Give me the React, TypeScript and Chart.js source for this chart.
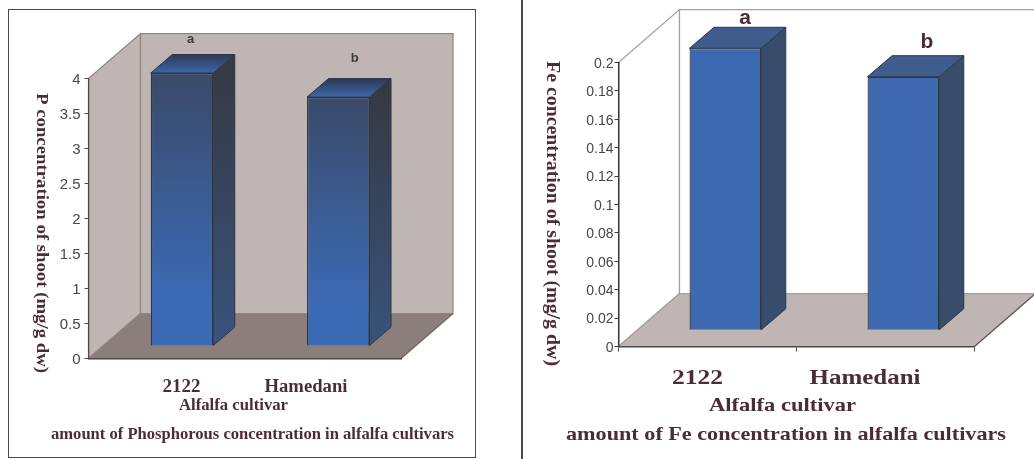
import React, { useEffect, useRef } from "react";
import { Chart, registerables } from "chart.js";

Chart.register(...registerables);

// Cultivars shown on both charts
const cultivars = ["2122", "Hamedani"];
const significance = ["a", "b"];

// Shoot concentrations (mg/g dw)
const phosphorusValues = [3.9, 3.556];
const ironValues = [0.1986, 0.1786];

const phosphorusMax = 4;
const phosphorusStep = 0.5;
const ironMax = 0.2;
const ironStep = 0.02;

const phosphorusAxisTitle = "P concentration of shoot (mg/g dw)";
const ironAxisTitle = "Fe concentration of shoot (mg/g dw)";
const xAxisTitle = "Alfalfa cultivar";
const phosphorusCaption = "amount of Phosphorous concentration in alfalfa cultivars";
const ironCaption = "amount of Fe concentration in alfalfa cultivars";

const SERIF = '"Liberation Serif", serif';
const SANS = '"Liberation Sans", sans-serif';
const TEXT = "#4b2d38";

type Look = {
  canvasLeft: number;
  area: { left: number; right: number; top: number; bottom: number };
  wall: { dx: number; dy: number; side: string; back: string; floor: string; stroke: string; floorEdge: string; lineWidth: number };
  bar: { shiftX: number; shiftY: number; dx: number; dy: number; percent: number; stroke: string };
  front: [string, string];
  sideFace: [string, string];
  topFace: [string, string];
  tickFont: number;
  tickPad: number;
  axisColor: string;
  axisWidth: number;
  xTicks: boolean;
  letters: { font: string; color: string; offsets: [number, number][] };
  catLabels: { font: string; y: number; centers: number[]; widths: number[] };
  yTitle: { font: string; x: number; y: number; len: number };
  xTitle: { font: string; x: number; y: number; len: number };
  caption: { font: string; x: number; y: number; len: number };
};

// Draws text centred on (cx, cy), stretched horizontally to span `len` pixels
function fitText(
  ctx: CanvasRenderingContext2D,
  text: string,
  font: string,
  color: string,
  cx: number,
  cy: number,
  len: number,
  rotate = 0
) {
  ctx.save();
  ctx.font = font;
  ctx.fillStyle = color;
  ctx.textAlign = "center";
  ctx.textBaseline = "middle";
  ctx.translate(cx, cy);
  ctx.rotate(rotate);
  ctx.scale(len / ctx.measureText(text).width, 1);
  ctx.fillText(text, 0, 0);
  ctx.restore();
}

function poly(ctx: CanvasRenderingContext2D, pts: number[][], fill: any, stroke?: string, lw = 1) {
  ctx.beginPath();
  pts.forEach(([x, y], i) => (i ? ctx.lineTo(x, y) : ctx.moveTo(x, y)));
  ctx.closePath();
  ctx.fillStyle = fill;
  ctx.fill();
  if (stroke) {
    ctx.strokeStyle = stroke;
    ctx.lineWidth = lw;
    ctx.stroke();
  }
}

// Box walls, floor, bar depth faces and the text around the plot
const scene = {
  id: "scene",
  beforeDraw(chart: any) {
    const look: Look = chart.options.plugins.scene.look;
    const { ctx } = chart;
    const { left, right, top, bottom } = chart.chartArea;
    const { dx, dy, side, back, floor, stroke, floorEdge, lineWidth } = look.wall;
    ctx.save();
    poly(ctx, [[left, bottom], [left, top], [left + dx, top - dy], [left + dx, bottom - dy]], side, stroke, lineWidth);
    poly(ctx, [[left + dx, top - dy], [right + dx, top - dy], [right + dx, bottom - dy], [left + dx, bottom - dy]], back, stroke, lineWidth);
    poly(ctx, [[left, bottom], [right, bottom], [right + dx, bottom - dy], [left + dx, bottom - dy]], floor);
    ctx.strokeStyle = stroke;
    ctx.lineWidth = lineWidth;
    ctx.beginPath();
    ctx.moveTo(left, bottom);
    ctx.lineTo(left + dx, bottom - dy);
    ctx.lineTo(right + dx, bottom - dy);
    ctx.stroke();
    ctx.strokeStyle = floorEdge;
    ctx.beginPath();
    ctx.moveTo(right, bottom);
    ctx.lineTo(right + dx, bottom - dy);
    ctx.stroke();
    ctx.restore();
  },
  beforeDatasetsDraw(chart: any) {
    const look: Look = chart.options.plugins.scene.look;
    const { ctx } = chart;
    const { shiftX, shiftY, dx, dy, stroke } = look.bar;
    ctx.save();
    ctx.translate(shiftX, -shiftY);
    chart.getDatasetMeta(0).data.forEach((bar: any) => {
      const l = bar.x - bar.width / 2;
      const r = bar.x + bar.width / 2;
      const sideGrad = ctx.createLinearGradient(0, bar.y, 0, bar.base);
      sideGrad.addColorStop(0, look.sideFace[0]);
      sideGrad.addColorStop(1, look.sideFace[1]);
      poly(ctx, [[r, bar.y], [r + dx, bar.y - dy], [r + dx, bar.base - dy], [r, bar.base]], sideGrad, stroke);
      const topGrad = ctx.createLinearGradient(0, bar.y - dy, 0, bar.y);
      topGrad.addColorStop(0, look.topFace[0]);
      topGrad.addColorStop(1, look.topFace[1]);
      poly(ctx, [[l, bar.y], [l + dx, bar.y - dy], [r + dx, bar.y - dy], [r, bar.y]], topGrad, stroke);
    });
  },
  afterDatasetsDraw(chart: any) {
    const look: Look = chart.options.plugins.scene.look;
    const { ctx } = chart;
    ctx.restore();
    chart.getDatasetMeta(0).data.forEach((bar: any, i: number) => {
      const [ox, oy] = look.letters.offsets[i];
      ctx.save();
      ctx.font = look.letters.font;
      ctx.fillStyle = look.letters.color;
      ctx.textAlign = "center";
      ctx.textBaseline = "middle";
      ctx.fillText(significance[i], bar.x + ox, bar.y + oy);
      ctx.restore();
    });
    cultivars.forEach((name, i) => {
      const c = look.catLabels;
      fitText(ctx, name, c.font, TEXT, c.centers[i], c.y, c.widths[i]);
    });
    const d = chart.options.plugins.scene.text;
    const { yTitle, xTitle, caption } = look;
    fitText(ctx, d.yTitle, yTitle.font, TEXT, yTitle.x, yTitle.y, yTitle.len, Math.PI / 2);
    fitText(ctx, xAxisTitle, xTitle.font, TEXT, xTitle.x, xTitle.y, xTitle.len);
    fitText(ctx, d.caption, caption.font, TEXT, caption.x, caption.y, caption.len);
  },
};

const phosphorusLook: Look = {
  canvasLeft: 0,
  area: { left: 88.5, right: 401, top: 78.5, bottom: 358.5 },
  wall: { dx: 52, dy: 45, side: "#bfb6b3", back: "#bfb6b3", floor: "#8b7e7b", stroke: "#8f8581", floorEdge: "#6f6663", lineWidth: 1.25 },
  bar: { shiftX: 15.4, shiftY: 12.5, dx: 21.5, dy: 18.5, percent: 0.4, stroke: "#2f3643" },
  front: ["#3a4a68", "#3b6ab4"],
  sideFace: ["#363a45", "#38537c"],
  topFace: ["#2e3a52", "#3a66ac"],
  tickFont: 15,
  tickPad: 4,
  axisColor: "#4a4a4f",
  axisWidth: 1.25,
  xTicks: false,
  letters: { font: `bold 13px ${SANS}`, color: "#3a3a40", offsets: [[24.1, -46.5], [31.8, -51.6]] },
  catLabels: { font: `bold 18.5px ${SERIF}`, y: 387, centers: [181.5, 306], widths: [38, 83] },
  yTitle: { font: `bold 17px ${SERIF}`, x: 41, y: 233, len: 280 },
  xTitle: { font: `bold 16.5px ${SERIF}`, x: 233.5, y: 406, len: 109 },
  caption: { font: `bold 16.5px ${SERIF}`, x: 252.5, y: 435, len: 403 },
};

const ironLook: Look = {
  canvasLeft: 517,
  area: { left: 101.5, right: 457.5, top: 62.5, bottom: 346.5 },
  wall: { dx: 61, dy: 53, side: "#ffffff", back: "#ffffff", floor: "#bfb6b3", stroke: "#a89e9a", floorEdge: "#555555", lineWidth: 1.25 },
  bar: { shiftX: 17.9, shiftY: 16.2, dx: 24.5, dy: 21, percent: 0.403, stroke: "#2f3643" },
  front: ["#3d69b0", "#3d69b0"],
  sideFace: ["#384c6c", "#384c6c"],
  topFace: ["#3f5d8c", "#3f5d8c"],
  tickFont: 14,
  tickPad: 1,
  axisColor: "#3a3a3f",
  axisWidth: 1.5,
  xTicks: true,
  letters: { font: `bold 21px ${SANS}`, color: TEXT, offsets: [[37.5, -46.5], [41.5, -50.2]] },
  catLabels: { font: `bold 20.5px ${SERIF}`, y: 379, centers: [180.5, 348], widths: [51, 111] },
  yTitle: { font: `bold 18px ${SERIF}`, x: 35, y: 213.5, len: 305 },
  xTitle: { font: `bold 19px ${SERIF}`, x: 265.5, y: 406.5, len: 147 },
  caption: { font: `bold 19px ${SERIF}`, x: 269, y: 435.5, len: 440 },
};

const CANVAS_W = 517;
const CANVAS_H = 459;
const Y_BOX = 40;
const X_BOX = 8;

function formatTick(value: number | string) {
  return String(Number(Number(value).toFixed(2)));
}

function ConcentrationChart(props: { look: Look; values: number[]; max: number; step: number; yTitle: string; caption: string }) {
  const ref = useRef<HTMLCanvasElement>(null);
  const { look, values, max, step, yTitle, caption } = props;

  useEffect(() => {
    const { area } = look;
    const chart = new Chart(ref.current as HTMLCanvasElement, {
      type: "bar",
      data: {
        labels: cultivars,
        datasets: [
          {
            data: values,
            barPercentage: look.bar.percent,
            categoryPercentage: 1,
            borderWidth: 1.25,
            borderColor: look.bar.stroke,
            clip: false,
            backgroundColor: (c: any) => {
              const ch = c.chart;
              if (!ch.chartArea || c.parsed === undefined) return look.front[1];
              const y = ch.scales.y;
              const g = ch.ctx.createLinearGradient(0, y.getPixelForValue(c.parsed.y), 0, y.getPixelForValue(0));
              g.addColorStop(0, look.front[0]);
              g.addColorStop(0.82, look.front[1]);
              g.addColorStop(1, look.front[1]);
              return g;
            },
          },
        ],
      },
      options: {
        animation: false,
        responsive: false,
        maintainAspectRatio: false,
        layout: {
          padding: {
            left: area.left - Y_BOX,
            right: CANVAS_W - area.right,
            top: area.top,
            bottom: CANVAS_H - area.bottom - X_BOX,
          },
        },
        plugins: {
          legend: { display: false },
          tooltip: { enabled: false },
          scene: { look, text: { yTitle, caption } },
        } as any,
        scales: {
          x: {
            afterFit: (s: any) => {
              s.height = X_BOX;
            },
            border: { color: "#4a4a4a", width: 1.5 },
            grid: { display: look.xTicks, drawOnChartArea: false, offset: true, color: "#4a4a4a", tickLength: 5 },
            ticks: { display: false },
          },
          y: {
            min: 0,
            max,
            afterFit: (s: any) => {
              s.width = Y_BOX;
            },
            border: { color: look.axisColor, width: look.axisWidth },
            grid: { drawOnChartArea: false, color: look.axisColor, tickLength: 4 },
            ticks: {
              stepSize: step,
              padding: look.tickPad,
              labelOffset: 1.5,
              color: "#47474c",
              font: { family: "Liberation Sans", size: look.tickFont },
              callback: formatTick,
            },
          },
        },
      } as any,
      plugins: [scene],
    });
    return () => chart.destroy();
  }, [look, values, max, step, yTitle, caption]);

  return (
    <canvas
      ref={ref}
      width={CANVAS_W}
      height={CANVAS_H}
      style={{ position: "absolute", left: look.canvasLeft, top: 0, width: CANVAS_W, height: CANVAS_H }}
    />
  );
}

export default function App() {
  return (
    <div style={{ position: "fixed", left: 0, top: 0, width: 1034, height: 459, background: "#fff", overflow: "hidden" }}>
      <div
        style={{
          position: "absolute",
          left: 8,
          top: 8.5,
          width: 468,
          height: 449,
          boxSizing: "border-box",
          border: "1.5px solid #4a4a4a",
        }}
      />
      <div style={{ position: "absolute", left: 521, top: 0, width: 1.5, height: 459, background: "#4a4a4a" }} />
      <ConcentrationChart
        look={phosphorusLook}
        values={phosphorusValues}
        max={phosphorusMax}
        step={phosphorusStep}
        yTitle={phosphorusAxisTitle}
        caption={phosphorusCaption}
      />
      <ConcentrationChart
        look={ironLook}
        values={ironValues}
        max={ironMax}
        step={ironStep}
        yTitle={ironAxisTitle}
        caption={ironCaption}
      />
    </div>
  );
}
